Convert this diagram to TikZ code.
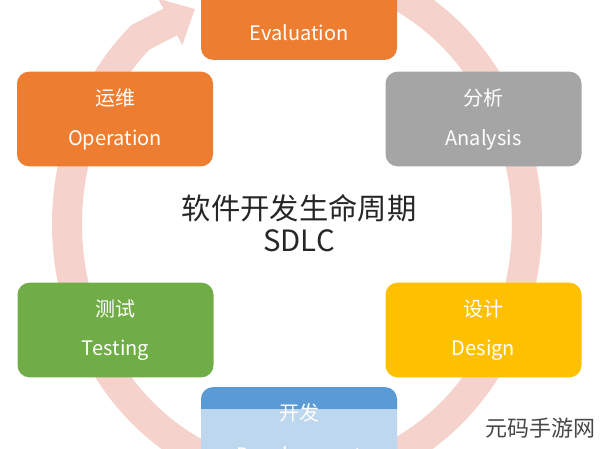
\documentclass[tikz,border=0pt]{standalone}
\usepackage{fontspec}
\setmainfont{Noto Sans CJK SC}
\usetikzlibrary{arrows.meta}
\definecolor{phaseorange}{HTML}{ED7D31}
\definecolor{phasegray}{HTML}{A5A5A5}
\definecolor{phaseyellow}{HTML}{FFC000}
\definecolor{phaseblue}{HTML}{5B9BD5}
\definecolor{phaselight}{HTML}{BDD7EE}
\definecolor{phasegreen}{HTML}{70AD47}
\definecolor{ringpink}{HTML}{F6D2CC}
\definecolor{titlegray}{HTML}{262626}
\begin{document}
\begin{tikzpicture}[x=0.75pt,y=-0.75pt,
    phase/.style={draw=none, rounded corners=9pt, minimum width=147pt, minimum height=71pt},
    zhlabel/.style={text=white, yshift=16pt, font=\fontsize{15}{18}\selectfont},
    enlabel/.style={text=white, yshift=-15.5pt, font=\fontsize{15}{18}\selectfont},
    ring/.style={line width=22.5pt, draw=ringpink, -{Triangle[width=38pt,length=21pt]}}]
  \useasboundingbox (0,0) rectangle (600,449);
  \clip (0,0) rectangle (600,449);
  % cycle ring
  \coordinate (tip) at (195,9);
  \draw[ring] plot[domain=0:292, samples=160, smooth] ({297+230*cos(65-\x)},{224-255*sin(65-\x)}) -- (tip);
  % phases
  \node[phase, fill=phaseorange] (ev) at (299,12.5) {};
  \node[phase, fill=phaseorange] (op) at (115,119) {};
  \node[phase, fill=phasegray] (an) at (483.5,119) {};
  \node[phase, fill=phasegreen] (te) at (115.5,330) {};
  \node[phase, fill=phaseyellow] (de) at (483.5,330) {};
  \node[phase, fill=phaselight] (dv) at (299,434.5) {};
  \begin{scope}
    \clip (0,380) rectangle (600,408);
    \node[phase, fill=phaseblue] (dv-top) at (dv.center) {};
  \end{scope}
  \node[zhlabel] (ev-zh) at (ev.center) {评估};
  \node[enlabel] (ev-en) at (ev.center) {Evaluation};
  \node[zhlabel] (op-zh) at (op.center) {运维};
  \node[enlabel] (op-en) at (op.center) {Operation};
  \node[zhlabel] (an-zh) at (an.center) {分析};
  \node[enlabel] (an-en) at (an.center) {Analysis};
  \node[zhlabel] (te-zh) at (te.center) {测试};
  \node[enlabel] (te-en) at (te.center) {Testing};
  \node[zhlabel] (de-zh) at (de.center) {设计};
  \node[enlabel] (de-en) at (de.center) {Design};
  \node[zhlabel] (dv-zh) at (dv.center) {开发};
  \node[enlabel, yshift=-1.5pt] (dv-en) at (dv.center) {Development};
  % title
  \node[text=titlegray, font=\fontsize{22}{26}\selectfont] (title) at (299,208) {软件开发生命周期};
  \node[text=titlegray, font=\fontsize{22}{26}\selectfont] (sdlc) at (299,241) {SDLC};
  % watermark
  \node[text=titlegray!85, font=\fontsize{16.5}{20}\selectfont] (mark) at (540,428) {元码手游网};
\end{tikzpicture}
\end{document}
